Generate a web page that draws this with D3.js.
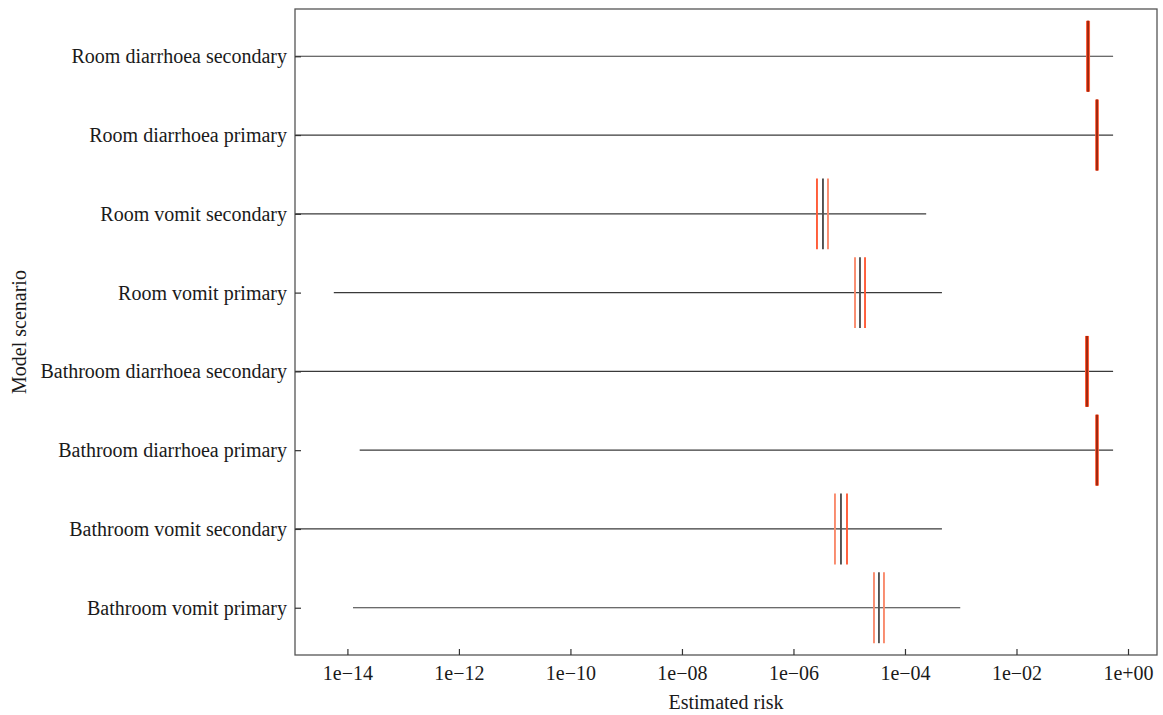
<!DOCTYPE html>
<html>
<head>
<meta charset="utf-8">
<script src="https://cdn.jsdelivr.net/npm/d3@7"></script>
<style>
  html, body { margin: 0; padding: 0; background: #fff; }
  svg { display: block; }
  text { font-family: "Liberation Serif", "Times New Roman", serif; fill: #1a1a1a; }
</style>
</head>
<body>
<svg id="chart" width="1163" height="715"></svg>
<script>
// Scenarios, top to bottom
const scenarios = [
  "Room diarrhoea secondary",
  "Room diarrhoea primary",
  "Room vomit secondary",
  "Room vomit primary",
  "Bathroom diarrhoea secondary",
  "Bathroom diarrhoea primary",
  "Bathroom vomit secondary",
  "Bathroom vomit primary"
];
// Range of estimated risk (min, max); minimums of 1e-16 fall below the axis
const rangeMin = [1e-16, 1e-16, 1e-16, 5.7e-15, 1e-16, 1.66e-14, 1e-16, 1.26e-14];
const rangeMax = [0.54, 0.54, 2.4e-4, 4.6e-4, 0.54, 0.54, 4.6e-4, 9.8e-4];
// Summary marks: lower (left), median, upper (right)
const markLow = [0.188, 0.274, 2.64e-6, 1.27e-5, 0.180, 0.274, 5.55e-6, 2.78e-5];
const markMid = [0.192, 0.278, 3.38e-6, 1.56e-5, 0.184, 0.278, 7.11e-6, 3.41e-5];
const markHigh = [0.196, 0.282, 4.16e-6, 1.92e-5, 0.188, 0.282, 9.12e-6, 4.20e-5];
// Colour of the low / high marks per scenario ("t" = tomato, "s" = salmon)
const lowColour = ["t", "t", "t", "s", "t", "t", "s", "s"];
const highColour = ["t", "t", "s", "t", "t", "t", "t", "s"];
const xTickValues = [1e-14, 1e-12, 1e-10, 1e-8, 1e-6, 1e-4, 1e-2, 1];
const xTickLabels = ["1e\u221214", "1e\u221212", "1e\u221210", "1e\u221208", "1e\u221206", "1e\u221204", "1e\u221202", "1e+00"];

const colours = { t: "#ff5a36", s: "#f98a6c" };

const svg = d3.select("#chart");
const margin = { left: 295, right: 6, top: 9, bottom: 60 };
const W = 1163, H = 715;
const x0 = margin.left, x1 = W - margin.right, y0 = margin.top, y1 = H - margin.bottom;

const x = d3.scaleLog().domain([Math.pow(10, -14.94), Math.pow(10, 0.52)]).range([x0, x1]).clamp(true);
const y = d3.scalePoint().domain(scenarios).range([y0, y1]).padding(0.6);
const half = y.step() * 0.45;

const rows = scenarios.map((s, i) => ({
  s, min: rangeMin[i], max: rangeMax[i],
  low: markLow[i], mid: markMid[i], high: markHigh[i],
  lc: colours[lowColour[i]], hc: colours[highColour[i]],
  wide: rangeMax[i] > 0.1
}));

const g = svg.append("g");

// range lines
g.selectAll("line.range").data(rows).enter().append("line")
  .attr("x1", d => x(d.min)).attr("x2", d => x(d.max))
  .attr("y1", d => y(d.s)).attr("y2", d => y(d.s))
  .attr("stroke", "#3a3a3a").attr("stroke-width", 1.2);

function marks(key, colourFn, widthFn) {
  g.selectAll("line.m-" + key).data(rows).enter().append("line")
    .attr("x1", d => x(d[key])).attr("x2", d => x(d[key]))
    .attr("y1", d => y(d.s) - half).attr("y2", d => y(d.s) + half)
    .attr("stroke", colourFn).attr("stroke-width", widthFn);
}
marks("low", d => d.lc, d => d.wide ? 3 : 1.9);
marks("high", d => d.hc, d => d.wide ? 3 : 1.9);
marks("mid", d => d.wide ? "#8a1f08" : "#505050", d => d.wide ? 1.6 : 1.9);

// frame
svg.append("rect").attr("x", x0).attr("y", y0).attr("width", x1 - x0).attr("height", y1 - y0)
  .attr("fill", "none").attr("stroke", "#555").attr("stroke-width", 1.3);

// x axis (ticks inward)
const xAxis = d3.axisBottom(x).tickValues(xTickValues)
  .tickFormat((d, i) => xTickLabels[i]).tickSizeInner(-6).tickSizeOuter(0).tickPadding(11);
const xa = svg.append("g").attr("transform", `translate(0,${y1})`).call(xAxis);
xa.select(".domain").remove();
xa.selectAll(".tick line").attr("stroke", "#333").attr("stroke-width", 1.2);
xa.selectAll(".tick text").style("font-family", '"Liberation Serif", serif').style("font-size", "20px").attr("fill", "#1a1a1a");

// y axis (ticks inward)
const yAxis = d3.axisLeft(y).tickSizeInner(-6).tickSizeOuter(0).tickPadding(8);
const ya = svg.append("g").attr("transform", `translate(${x0},0)`).call(yAxis);
ya.select(".domain").remove();
ya.selectAll(".tick line").attr("stroke", "#333").attr("stroke-width", 1.2);
ya.selectAll(".tick text").style("font-family", '"Liberation Serif", serif').style("font-size", "20px").attr("fill", "#1a1a1a");

// axis titles
svg.append("text").attr("x", (x0 + x1) / 2).attr("y", 709).attr("text-anchor", "middle")
  .style("font-size", "20px").text("Estimated risk");
svg.append("text").attr("transform", `translate(26,${(y0 + y1) / 2}) rotate(-90)`)
  .attr("text-anchor", "middle").style("font-size", "20px").text("Model scenario");
</script>
</body>
</html>
